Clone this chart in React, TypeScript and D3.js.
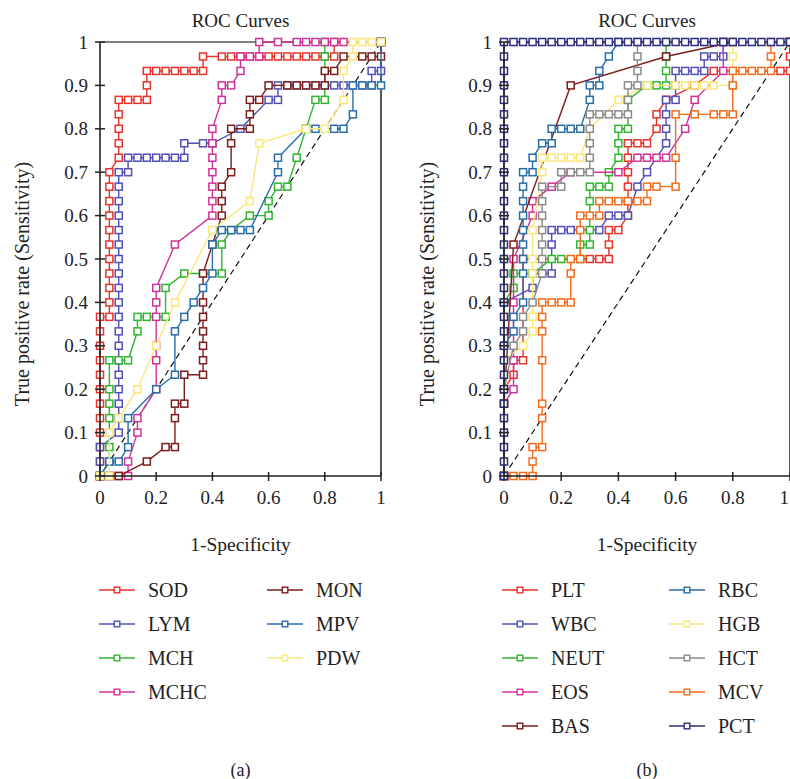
import React from "react";
import * as d3 from "d3";

// ROC points as [false-positive count, true-positive count], both out of N
const N = 30;

// ---------- Panel (a) ----------
const SOD: [number, number][] = [[0,0],[0,1],[0,2],[0,3],[0,4],[0,5],[0,6],[0,7],[0,8],[0,9],[0,10],[0,11],[1,11],[1,12],[1,13],[1,14],[1,15],[1,16],[1,17],[1,18],[1,19],[1,20],[1,21],[2,22],[2,23],[2,24],[2,25],[2,26],[3,26],[4,26],[5,26],[5,27],[5,28],[6,28],[7,28],[8,28],[9,28],[10,28],[11,28],[11,29],[13,29],[14,29],[15,29],[16,29],[17,29],[18,29],[19,29],[20,29],[21,29],[22,29],[23,29],[24,29],[25,29],[25,30],[30,30]];
const LYM: [number, number][] = [[0,0],[0,1],[0,2],[2,3],[2,4],[2,5],[2,6],[2,7],[2,8],[2,9],[2,10],[2,11],[2,12],[2,13],[2,14],[2,15],[2,16],[2,17],[2,18],[2,19],[2,20],[2,21],[3,21],[3,22],[4,22],[5,22],[6,22],[7,22],[8,22],[9,22],[9,23],[11,23],[12,23],[15,24],[18,26],[19,26],[19,27],[20,27],[21,27],[22,27],[23,27],[24,27],[25,27],[26,27],[27,27],[28,27],[29,27],[29,28],[30,28],[30,30]];
const MCH: [number, number][] = [[0,0],[1,1],[1,2],[1,4],[1,5],[1,6],[1,8],[2,8],[3,8],[4,10],[4,11],[5,11],[7,11],[7,13],[9,14],[11,14],[13,14],[13,16],[14,17],[16,18],[18,18],[18,19],[19,20],[20,20],[21,22],[22,24],[23,26],[24,26],[24,29],[24,30],[30,30]];
const MCHC: [number, number][] = [[0,0],[1,0],[2,0],[3,0],[3,1],[4,3],[4,4],[6,6],[6,8],[6,9],[6,11],[6,12],[6,13],[8,16],[12,18],[12,19],[12,20],[12,21],[12,22],[12,23],[12,24],[13,26],[13,27],[14,27],[15,28],[15,29],[16,29],[17,29],[17,30],[19,30],[21,30],[22,30],[23,30],[24,30],[25,30],[26,30],[30,30]];
const MON: [number, number][] = [[0,0],[1,0],[2,0],[5,1],[7,2],[8,2],[8,4],[8,5],[9,5],[9,7],[11,7],[11,8],[11,9],[11,10],[11,11],[11,12],[11,14],[12,16],[13,18],[13,19],[13,20],[14,21],[14,23],[14,24],[16,24],[16,25],[16,26],[17,26],[18,27],[20,27],[21,27],[22,27],[23,27],[24,27],[24,28],[25,28],[26,29],[28,29],[29,29],[30,29],[30,30]];
const MPV: [number, number][] = [[0,0],[1,1],[2,1],[3,2],[3,4],[6,6],[8,7],[8,10],[9,11],[10,12],[11,13],[12,14],[12,16],[13,17],[14,17],[15,17],[16,17],[19,21],[19,22],[22,24],[23,24],[25,24],[26,24],[27,25],[27,27],[28,27],[29,27],[30,27],[30,30]];
const PDW: [number, number][] = [[0,0],[1,0],[1,3],[2,4],[4,6],[6,9],[8,12],[12,17],[16,19],[17,23],[22,24],[24,24],[26,26],[26,28],[27,29],[27,30],[28,30],[29,30],[30,30]];

// ---------- Panel (b) ----------
const PLT: [number, number][] = [[0,0],[0,6],[1,7],[1,8],[2,8],[2,15],[9,15],[10,15],[11,15],[11,16],[11,17],[12,17],[13,18],[13,19],[13,20],[13,21],[13,22],[13,23],[14,23],[15,23],[16,24],[16,25],[17,26],[20,27],[22,28],[29,28],[30,28],[30,29],[30,30]];
const WBC: [number, number][] = [[0,0],[0,12],[3,13],[3,14],[4,14],[5,14],[5,16],[5,17],[6,17],[7,17],[10,17],[11,18],[12,18],[13,18],[14,20],[15,21],[17,23],[17,24],[17,25],[17,26],[18,26],[18,27],[18,28],[19,28],[20,28],[21,28],[21,29],[22,29],[23,29],[23,30],[30,30]];
const NEUT: [number, number][] = [[0,0],[0,12],[1,13],[1,14],[3,14],[5,15],[6,15],[8,15],[8,16],[9,16],[9,17],[9,19],[9,20],[10,20],[11,20],[11,21],[12,22],[12,23],[12,24],[13,24],[13,26],[15,27],[16,27],[17,27],[17,28],[17,29],[17,30],[30,30]];
const EOS: [number, number][] = [[0,0],[0,5],[1,6],[1,8],[1,12],[1,15],[3,18],[3,19],[5,20],[7,21],[12,21],[14,22],[15,22],[16,22],[17,22],[19,24],[20,26],[23,28],[23,30],[30,30]];
const BAS: [number, number][] = [[0,0],[0,5],[1,16],[7,27],[17,29],[24,30],[30,30]];
const RBC: [number, number][] = [[0,0],[0,9],[1,10],[1,11],[2,12],[2,14],[2,15],[2,16],[2,17],[2,18],[2,19],[2,20],[2,21],[3,21],[3,22],[4,23],[5,23],[5,24],[6,24],[7,24],[8,24],[9,26],[9,27],[10,27],[10,28],[11,29],[12,30],[30,30]];
const HGB: [number, number][] = [[0,0],[0,8],[2,9],[3,10],[3,11],[3,14],[3,15],[3,17],[4,21],[4,22],[5,22],[6,22],[7,22],[8,22],[9,24],[12,26],[15,27],[18,27],[19,27],[20,27],[21,27],[22,27],[24,27],[24,29],[24,30],[30,30]];
const HCT: [number, number][] = [[0,0],[0,6],[1,9],[2,10],[2,11],[3,12],[4,14],[4,15],[4,16],[4,17],[4,18],[4,19],[4,20],[6,20],[6,21],[7,21],[8,21],[9,21],[9,22],[9,23],[9,24],[9,25],[10,25],[11,25],[12,25],[13,25],[13,26],[13,27],[14,27],[14,28],[14,29],[14,30],[30,30]];
const MCV: [number, number][] = [[0,0],[1,0],[2,0],[3,0],[3,1],[3,2],[4,2],[4,4],[4,5],[4,8],[4,10],[4,11],[4,12],[5,12],[6,12],[7,12],[7,14],[7,15],[8,15],[8,17],[8,18],[9,18],[10,18],[10,19],[11,19],[12,19],[13,19],[14,19],[15,19],[15,20],[16,20],[18,20],[18,22],[18,25],[20,25],[22,25],[23,25],[24,25],[24,27],[24,28],[25,28],[26,28],[27,28],[28,28],[28,29],[28,30],[30,30]];
const PCT: [number, number][] = [[0,0],[0,1],[0,2],[0,3],[0,4],[0,5],[0,6],[0,7],[0,8],[0,9],[0,10],[0,11],[0,12],[0,13],[0,14],[0,15],[0,16],[0,17],[0,18],[0,19],[0,20],[0,21],[0,22],[0,23],[0,24],[0,25],[0,26],[0,27],[0,28],[0,29],[0,30],[1,30],[2,30],[3,30],[4,30],[5,30],[6,30],[7,30],[8,30],[9,30],[10,30],[11,30],[12,30],[13,30],[14,30],[15,30],[16,30],[17,30],[18,30],[19,30],[20,30],[21,30],[22,30],[23,30],[24,30],[25,30],[26,30],[27,30],[28,30],[29,30],[30,30]];

const namesA = ["SOD", "LYM", "MCH", "MCHC", "MON", "MPV", "PDW"];
const dataA = [SOD, LYM, MCH, MCHC, MON, MPV, PDW];
const colorsA = ["#e8332a", "#5050b6", "#2fb52f", "#cf3399", "#7d1c1c", "#286da8", "#f9e77a"];

const namesB = ["PLT", "WBC", "NEUT", "EOS", "BAS", "RBC", "HGB", "HCT", "MCV", "PCT"];
const dataB = [PLT, WBC, NEUT, EOS, BAS, RBC, HGB, HCT, MCV, PCT];
const colorsB = ["#e8332a", "#5050b6", "#2fb52f", "#cf3399", "#7d1c1c", "#286da8", "#f9e77a", "#8a8a8a", "#f36b1c", "#2d2d7d"];

const yTicks = [0, 0.1, 0.2, 0.3, 0.4, 0.5, 0.6, 0.7, 0.8, 0.9, 1];
const xTicks = [0, 0.2, 0.4, 0.6, 0.8, 1];

const FONT = "'Liberation Serif', 'DejaVu Serif', serif";
const W = 790;

type PanelProps = {
  left: number;
  right: number;
  names: string[];
  data: [number, number][][];
  colors: string[];
  legendX: [number, number];
  legendRows: number;
  ylabX: number;
  tag: string;
};

function Panel({ left, right, names, data, colors, legendX, legendRows, ylabX, tag }: PanelProps) {
  const top = 42;
  const bottom = 476;
  const x = d3.scaleLinear().domain([0, 1]).range([left, right]);
  const y = d3.scaleLinear().domain([0, 1]).range([bottom, top]);
  const line = d3
    .line<[number, number]>()
    .x((d) => x(d[0] / N))
    .y((d) => y(d[1] / N));
  const cx = (left + right) / 2;
  const ms = 7;
  return (
    <g>
      {/* frame */}
      <line x1={left} x2={right} y1={top} y2={top} stroke="#555" strokeWidth={1.5} />
      <line x1={right} x2={right} y1={top} y2={bottom} stroke="#222" strokeWidth={1.5} />
      <line x1={x(0)} y1={y(0)} x2={x(1)} y2={y(1)} stroke="#111" strokeWidth={1.2} strokeDasharray="6,4" />
      {/* series */}
      {data.map((s, i) => (
        <g key={names[i]}>
          <path d={line(s) || ""} fill="none" stroke={colors[i]} strokeWidth={1.4} />
          {s.map((p, j) => (
            <rect
              key={j}
              x={x(p[0] / N) - ms / 2}
              y={y(p[1] / N) - ms / 2}
              width={ms}
              height={ms}
              fill="#fff"
              stroke={colors[i]}
              strokeWidth={1.5}
            />
          ))}
        </g>
      ))}
      {/* axes */}
      <line x1={left} x2={left} y1={top} y2={bottom} stroke="#222" strokeWidth={1.6} />
      <line x1={left} x2={right} y1={bottom} y2={bottom} stroke="#222" strokeWidth={1.6} />
      {yTicks.map((t) => (
        <g key={"y" + t}>
          <line x1={left - 5} x2={left + 5} y1={y(t)} y2={y(t)} stroke="#222" strokeWidth={1.5} />
          <text x={left - 12} y={y(t)} dy="0.35em" textAnchor="end" fontSize={19} fontFamily={FONT} fill="#222">
            {String(t)}
          </text>
        </g>
      ))}
      {xTicks.map((t) => {
        const tx = x(t);
        const overflow = tx + 5 > W;
        return (
          <g key={"x" + t}>
            <line x1={tx} x2={tx} y1={bottom - 4} y2={bottom + 5} stroke="#222" strokeWidth={1.5} />
            <text
              x={overflow ? W - 1 : tx}
              y={bottom + 28}
              textAnchor={overflow ? "end" : "middle"}
              fontSize={19}
              fontFamily={FONT}
              fill="#222"
            >
              {String(t)}
            </text>
          </g>
        );
      })}
      {/* titles */}
      <text x={cx} y={27} textAnchor="middle" fontSize={19} fontFamily={FONT} fill="#222">
        ROC Curves
      </text>
      <text x={cx} y={551} textAnchor="middle" fontSize={19.5} fontFamily={FONT} fill="#222">
        1-Specificity
      </text>
      <text
        transform={`translate(${ylabX},${284}) rotate(-90)`}
        textAnchor="middle"
        dy="0.35em"
        fontSize={20}
        fontFamily={FONT}
        fill="#222"
      >
        True positive rate (Sensitivity)
      </text>
      {/* legend */}
      {names.map((n, i) => {
        const col = Math.floor(i / legendRows);
        const row = i % legendRows;
        const lx = legendX[col];
        const ly = 590 + row * 34;
        return (
          <g key={"lg" + n}>
            <line x1={lx} x2={lx + 36} y1={ly} y2={ly} stroke={colors[i]} strokeWidth={1.6} />
            <rect x={lx + 18 - 2.8} y={ly - 2.8} width={5.6} height={5.6} fill="#fff" stroke={colors[i]} strokeWidth={1.4} />
            <text x={lx + 49} y={ly} dy="0.35em" fontSize={20} fontFamily={FONT} fill="#222">
              {n}
            </text>
          </g>
        );
      })}
      <text x={cx} y={776} textAnchor="middle" fontSize={18} fontFamily={FONT} fill="#222">
        {tag}
      </text>
    </g>
  );
}

export default function App() {
  return (
    <svg
      width={W}
      height={779}
      viewBox={`0 0 ${W} 779`}
      style={{ position: "absolute", left: 0, top: 0, background: "#fff" }}
    >
      <rect x={0} y={0} width={W} height={779} fill="#fff" />
      <Panel
        left={100}
        right={381}
        names={namesA}
        data={dataA}
        colors={colorsA}
        legendX={[99, 267]}
        legendRows={4}
        ylabX={22}
        tag="(a)"
      />
      <Panel
        left={504}
        right={790}
        names={namesB}
        data={dataB}
        colors={colorsB}
        legendX={[502, 669]}
        legendRows={5}
        ylabX={427}
        tag="(b)"
      />
    </svg>
  );
}
